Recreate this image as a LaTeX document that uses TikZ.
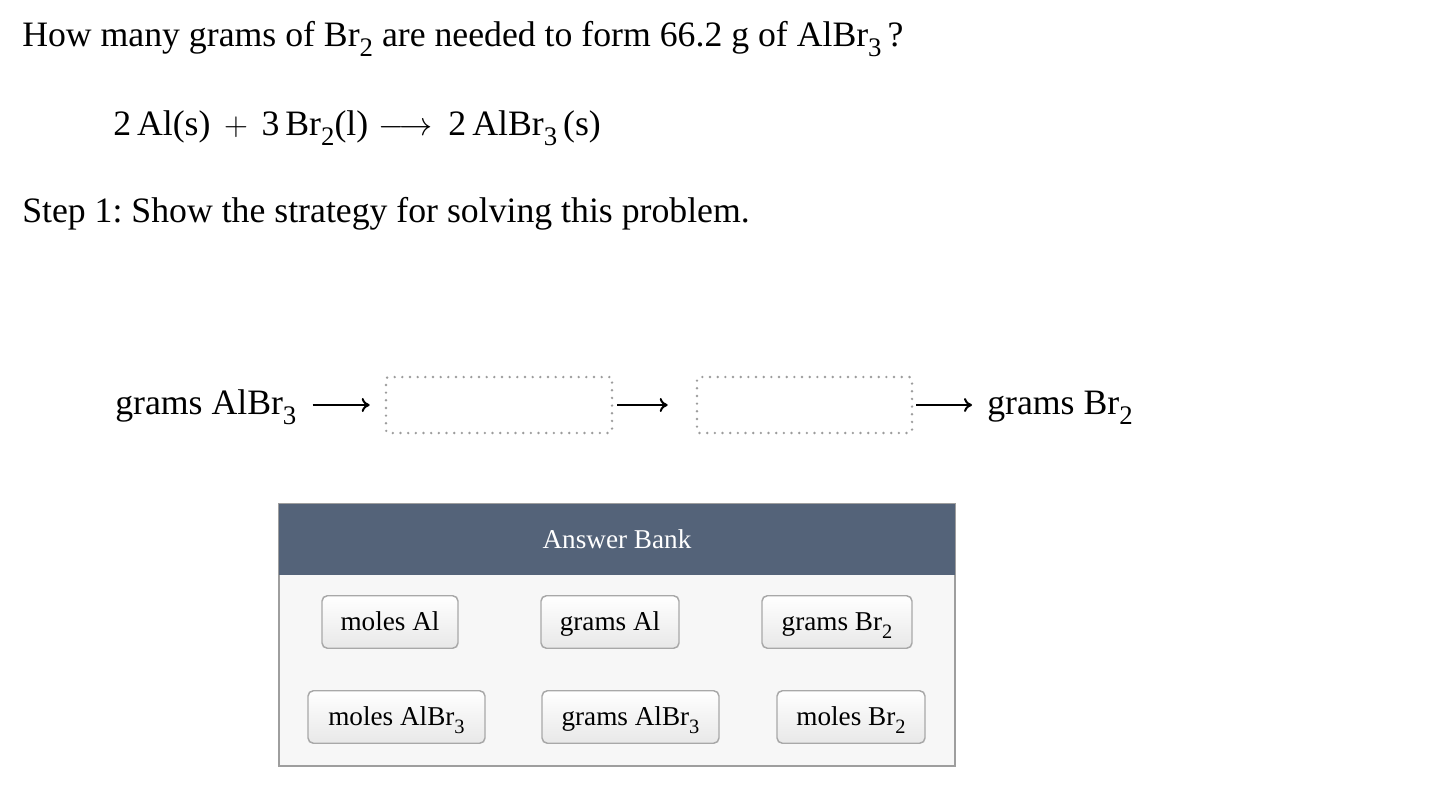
\documentclass[tikz,border=0pt]{standalone}
\usepackage{fontspec}
\setmainfont{Liberation Serif}
\usetikzlibrary{arrows.meta}
\frenchspacing
\definecolor{hdr}{HTML}{546379}
\definecolor{bankbg}{HTML}{F7F7F7}
\definecolor{bankframe}{HTML}{9E9E9E}
\definecolor{btnframe}{HTML}{A8A8A8}
\definecolor{dotgray}{HTML}{9C9C9C}
\newcommand\chemsub[1]{\raisebox{-0.3em}{\scalebox{0.75}{#1}}}
\tikzset{
  maintext/.style={font=\fontsize{26.8pt}{32pt}\selectfont, inner sep=0pt, anchor=base west},
  banktext/.style={font=\fontsize{20.4pt}{24pt}\selectfont},
  slotbox/.style={draw=dotgray, line width=2pt, line cap=round,
    dash pattern=on 0pt off 5.75pt, rounded corners=2pt,
    minimum width=226*0.75pt, minimum height=56*0.75pt, inner sep=0pt},
  btn/.style={banktext, draw=btnframe, line width=1.1pt, rounded corners=4pt,
    top color=white, bottom color=black!9, minimum height=52.5*0.75pt, inner sep=0pt,
    text height=17pt, text depth=4.2pt},
  conn/.style={line width=1.5pt, -{To[length=6pt,width=10.5pt]}},
}
\begin{document}
\begin{tikzpicture}[x=0.75pt,y=-0.75pt]
\useasboundingbox[fill=white] (0,0) rectangle (1446,800);

% question
\node[maintext] (q) at (22,46) {How many grams of Br\chemsub{2} are needed to form 66.2 g of AlBr\chemsub{3}\,?};
\node[maintext] (eq) at (113,135) {2\,Al(s)\hspace{0.38em}$+$\hspace{0.38em}3\,Br\chemsub{2}(l)\hspace{0.3em}$\longrightarrow$\hspace{0.45em}2\,AlBr\chemsub{3}\,(s)};
\node[maintext] (st) at (22,222) {Step 1: Show the strategy for solving this problem.};

% strategy row
\node[maintext] (start) at (115,414) {grams AlBr\chemsub{3}};
\node[slotbox] (s1) at (499,405) {};
\node[slotbox, minimum width=215*0.75pt] (s2) at (804.5,405) {};
\node[maintext] (end) at (987,414) {grams Br\chemsub{2}};
\coordinate (ay) at (0,405);
\draw[conn, shorten <=16*0.75pt, shorten >=15*0.75pt] (start.east |- ay) -- (s1.west);
\draw[conn, shorten <=4*0.75pt, shorten >=28*0.75pt] (s1.east) -- (s2.west);
\draw[conn, shorten <=3*0.75pt, shorten >=15*0.75pt] (s2.east) -- (end.west |- ay);

% answer bank
\node[fill=bankbg, draw=bankframe, line width=1.3pt, minimum width=676*0.75pt,
  minimum height=262*0.75pt, inner sep=0pt] (bank) at (617,635) {};
\fill[hdr] ([shift={(0.65pt,-0.65pt)}]bank.north west) rectangle ([shift={(-0.65pt,0)}]bank.north east |- 0,575);
\node[banktext, text=white, anchor=base, inner sep=0pt] (bt) at (617,548) {Answer Bank};

\node[btn, minimum width=136*0.75pt] (b1) at (390,622) {moles Al};
\node[btn, minimum width=138*0.75pt] (b2) at (610,622) {grams Al};
\node[btn, minimum width=150*0.75pt] (b3) at (837,622) {grams Br\chemsub{2}};
\node[btn, minimum width=177*0.75pt] (b4) at (396.5,717) {moles AlBr\chemsub{3}};
\node[btn, minimum width=177*0.75pt] (b5) at (630.5,717) {grams AlBr\chemsub{3}};
\node[btn, minimum width=148*0.75pt] (b6) at (851,717) {moles Br\chemsub{2}};
\end{tikzpicture}
\end{document}
